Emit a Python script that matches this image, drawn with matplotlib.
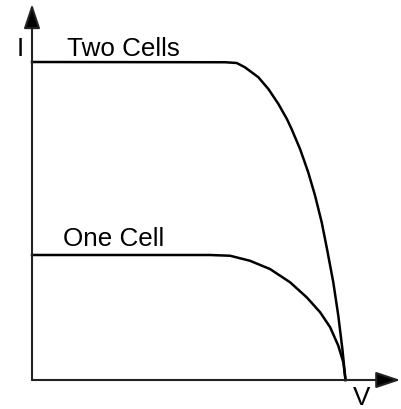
import matplotlib.pyplot as plt

# I-V characteristics, voltage normalised to Voc, current to one cell's Isc
v_two = [0.0, 0.616, 0.653, 0.679, 0.722, 0.754, 0.786, 0.813, 0.828,
         0.855, 0.881, 0.903, 0.924, 0.941, 0.961, 0.977, 0.990, 1.0]
i_two = [2.544, 2.542, 2.536, 2.502, 2.422, 2.328, 2.208, 2.088, 2.008,
         1.848, 1.662, 1.474, 1.262, 1.048, 0.782, 0.514, 0.248, 0.0]

v_one = [0.0, 0.568, 0.632, 0.695, 0.759, 0.823, 0.876, 0.919, 0.951,
         0.977, 0.993, 1.0]
i_one = [1.0, 1.0, 0.994, 0.954, 0.888, 0.782, 0.662, 0.542, 0.422,
         0.274, 0.142, 0.0]

labels = ["Two Cells", "One Cell"]

plt.rcParams['font.family'] = ['Liberation Sans', 'DejaVu Sans']

fig = plt.figure(figsize=(4.01, 4.10), dpi=100)
ax = fig.add_axes([0, 0, 1, 1])
ax.set_xlim(-0.1021, 1.177)
ax.set_ylim(-0.232, 3.048)
ax.axis('off')

# axes with arrow heads
arrow = dict(arrowstyle='-|>,head_length=0.75,head_width=0.25',
             mutation_scale=20, lw=1.5, color='#222222', fc='black',
             shrinkA=0, shrinkB=0)
ax.annotate('', xy=(0, 3.008), xytext=(0, 0), arrowprops=arrow)
ax.annotate('', xy=(1.175, 0), xytext=(0, 0), arrowprops=arrow)

ax.plot(v_two, i_two, c='black', lw=1.8, solid_joinstyle='round')
ax.plot(v_one, i_one, c='black', lw=1.8, solid_joinstyle='round')

ax.text(0.112, 2.6, labels[0], fontsize=18.7, va='baseline', ha='left')
ax.text(0.099, 1.08, labels[1], fontsize=18.7, va='baseline', ha='left')
ax.text(-0.048, 2.6, "I", fontsize=18.7, va='baseline', ha='left')
ax.text(1.022, -0.196, "V", fontsize=18.7, va='baseline', ha='left')

plt.savefig('out.png', dpi=100)
